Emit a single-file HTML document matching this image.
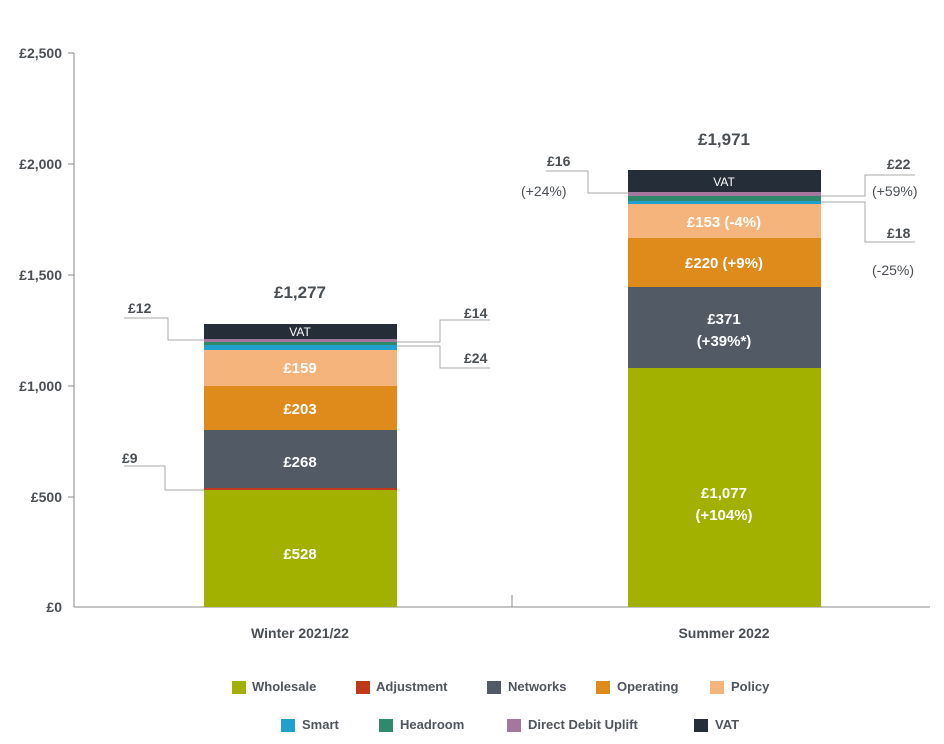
<!DOCTYPE html>
<html><head><meta charset="utf-8"><style>
body{margin:0;background:#fff;}
svg text{font-family:"Liberation Sans",sans-serif;}
</style></head><body>
<svg width="944" height="739" viewBox="0 0 944 739" xmlns="http://www.w3.org/2000/svg">
<g fill="#4a4f55" font-size="14" font-weight="bold" text-anchor="end">
<text x="62" y="58">£2,500</text><text x="62" y="169">£2,000</text><text x="62" y="280">£1,500</text>
<text x="62" y="391">£1,000</text><text x="62" y="502">£500</text><text x="62" y="612">£0</text>
</g>
<g stroke="#888" stroke-width="1">
<line x1="74" y1="53" x2="74" y2="607"/><line x1="68" y1="53" x2="74" y2="53"/>
<line x1="68" y1="164" x2="74" y2="164"/><line x1="68" y1="275" x2="74" y2="275"/>
<line x1="68" y1="386" x2="74" y2="386"/><line x1="68" y1="497" x2="74" y2="497"/>
<line x1="74" y1="607" x2="930" y2="607"/><line x1="512" y1="595" x2="512" y2="607"/>
</g>
<!-- Winter -->
<rect x="204" y="490" width="193" height="117" fill="#a2b100"/>
<rect x="204" y="488" width="193" height="2" fill="#c0391b"/>
<rect x="204" y="430" width="193" height="58" fill="#525a66"/>
<rect x="204" y="386" width="193" height="44" fill="#de8b1b"/>
<rect x="204" y="350" width="193" height="36" fill="#f4b47b"/>
<rect x="204" y="345" width="193" height="5" fill="#1fa0cf"/>
<rect x="204" y="342" width="193" height="3" fill="#2e8a6a"/>
<rect x="204" y="339" width="193" height="3" fill="#a6779e"/>
<rect x="204" y="324" width="193" height="15" fill="#242d38"/>
<!-- Summer -->
<rect x="628" y="368" width="193" height="239" fill="#a2b100"/>
<rect x="628" y="287" width="193" height="81" fill="#525a66"/>
<rect x="628" y="238" width="193" height="49" fill="#de8b1b"/>
<rect x="628" y="204" width="193" height="34" fill="#f4b47b"/>
<rect x="628" y="201" width="193" height="3" fill="#1fa0cf"/>
<rect x="628" y="196" width="193" height="5" fill="#2e8a6a"/>
<rect x="628" y="192" width="193" height="4" fill="#a6779e"/>
<rect x="628" y="170" width="193" height="22" fill="#242d38"/>
<g fill="#fff" font-size="15" font-weight="bold" text-anchor="middle">
<text x="300" y="559">£528</text><text x="300" y="467">£268</text><text x="300" y="414">£203</text>
<text x="300" y="373">£159</text><text x="300" y="336" font-size="12" font-weight="normal">VAT</text>
<text x="724" y="498">£1,077</text><text x="724" y="520">(+104%)</text>
<text x="724" y="324">£371</text><text x="724" y="346">(+39%*)</text>
<text x="724" y="268">£220 (+9%)</text><text x="724" y="227">£153 (-4%)</text>
<text x="724" y="186" font-size="12" font-weight="normal">VAT</text>
</g>
<g fill="#4a4f55" font-size="17" font-weight="bold" text-anchor="middle">
<text x="300" y="298">£1,277</text><text x="724" y="145">£1,971</text>
</g>
<g fill="none" stroke="#aaa" stroke-width="1">
<polyline points="124,318 168,318 168,340 204,340"/>
<polyline points="490,320 440,320 440,342 397,342"/>
<polyline points="397,346 440,346 440,368 490,368"/>
<polyline points="124,466 165,466 165,490 204,490"/>
<polyline points="546,171 588,171 588,193 628,193"/>
<polyline points="915,175 865,175 865,196 821,196"/>
<polyline points="821,202 865,202 865,242 915,242"/>
</g>
<g fill="#4a4f55" font-size="14" font-weight="bold">
<text x="128" y="313">£12</text><text x="464" y="318">£14</text><text x="464" y="363">£24</text>
<text x="122" y="463">£9</text>
<text x="547" y="166">£16</text><text x="521" y="196" font-weight="normal">(+24%)</text>
<text x="887" y="169">£22</text><text x="872" y="196" font-weight="normal">(+59%)</text>
<text x="887" y="238">£18</text><text x="872" y="275" font-weight="normal">(-25%)</text>
</g>
<g fill="#4a4f55" font-size="14" font-weight="bold" text-anchor="middle">
<text x="300" y="638">Winter 2021/22</text><text x="724" y="638">Summer 2022</text>
</g>
<g font-size="13" fill="#4f555c" font-weight="bold">
<rect x="232" y="681" width="14" height="13" fill="#a2b100"/><text x="252" y="691">Wholesale</text>
<rect x="356" y="681" width="14" height="13" fill="#c0391b"/><text x="376" y="691">Adjustment</text>
<rect x="487" y="681" width="14" height="13" fill="#525a66"/><text x="508" y="691">Networks</text>
<rect x="596" y="681" width="14" height="13" fill="#de8b1b"/><text x="617" y="691">Operating</text>
<rect x="710" y="681" width="14" height="13" fill="#f4b47b"/><text x="731" y="691">Policy</text>
<rect x="281" y="719" width="14" height="13" fill="#1fa0cf"/><text x="302" y="729">Smart</text>
<rect x="379" y="719" width="14" height="13" fill="#2e8a6a"/><text x="400" y="729">Headroom</text>
<rect x="507" y="719" width="14" height="13" fill="#a6779e"/><text x="528" y="729">Direct Debit Uplift</text>
<rect x="694" y="719" width="14" height="13" fill="#242d38"/><text x="715" y="729">VAT</text>
</g>
</svg>
</body></html>
